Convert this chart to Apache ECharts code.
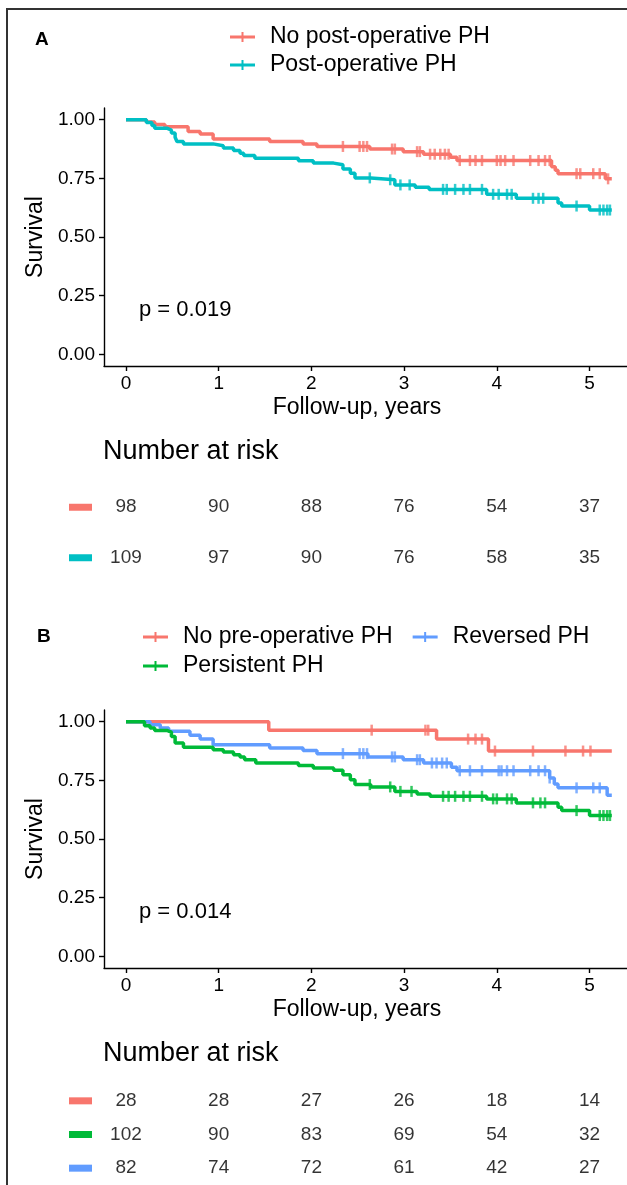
<!DOCTYPE html>
<html>
<head>
<meta charset="utf-8">
<style>
  html, body { margin: 0; padding: 0; background: #ffffff; }
  #chart { width: 627px; height: 1185px; }
</style>
<script src="https://cdn.jsdelivr.net/npm/echarts@6.0.0/dist/echarts.min.js"></script>
</head>
<body>
<div id="chart"></div>
<script>
// ---------- shared axis settings ----------
const xTicks = [0, 1, 2, 3, 4, 5];
const yTicks = [0, 0.25, 0.5, 0.75, 1];
const followEnd = 5.24;

// ---------- Panel A: post-operative PH ----------
const aNames = ['No post-operative PH', 'Post-operative PH'];

const aNoPostTime = [0, 0.22, 0.31, 0.42, 0.67, 0.80, 0.94, 1.55, 1.91, 2.06, 2.63, 2.99, 3.21, 3.50, 3.57, 4.59, 4.63, 4.66, 5.17];
const aNoPostSurv = [1, 0.990, 0.980, 0.970, 0.950, 0.939, 0.918, 0.907, 0.897, 0.886, 0.875, 0.864, 0.853, 0.840, 0.826, 0.800, 0.785, 0.770, 0.748];
const aNoPostCensor = [2.34, 2.52, 2.56, 2.60, 2.87, 2.90, 3.14, 3.17, 3.28, 3.33, 3.39, 3.44, 3.48, 3.60, 3.71, 3.77, 3.84, 4.00, 4.04, 4.09, 4.18, 4.36, 4.45, 4.52, 4.57, 4.86, 4.90, 5.04, 5.11, 5.20];

const aPostTime = [0, 0.22, 0.28, 0.31, 0.44, 0.49, 0.53, 0.55, 0.62, 0.94, 1.05, 1.16, 1.23, 1.27, 1.39, 1.86, 2.02, 2.24, 2.34, 2.42, 2.47, 2.64, 2.90, 3.12, 3.27, 3.89, 4.21, 4.66, 4.70, 5.00];
const aPostSurv = [1, 0.988, 0.975, 0.964, 0.956, 0.943, 0.925, 0.907, 0.897, 0.889, 0.879, 0.869, 0.857, 0.847, 0.836, 0.825, 0.815, 0.808, 0.790, 0.772, 0.752, 0.744, 0.722, 0.712, 0.703, 0.682, 0.665, 0.645, 0.632, 0.615];
const aPostCensor = [2.63, 2.85, 2.96, 3.06, 3.42, 3.46, 3.55, 3.64, 3.71, 3.84, 3.96, 4.02, 4.11, 4.16, 4.39, 4.45, 4.50, 4.86, 5.11, 5.15, 5.19, 5.22];

const aRiskNoPost = [98, 90, 88, 76, 54, 37];
const aRiskPost = [109, 97, 90, 76, 58, 35];

// ---------- Panel B: pre-operative PH course ----------
const bNames = ['No pre-operative PH', 'Reversed PH', 'Persistent PH'];

const bNoPreTime = [0, 1.54, 3.35, 3.91];
const bNoPreSurv = [1, 0.964, 0.926, 0.875];
const bNoPreCensor = [2.65, 3.23, 3.26, 3.69, 3.77, 3.84, 3.98, 4.39, 4.74, 4.93, 5.01];

const bReversedTime = [0, 0.26, 0.37, 0.46, 0.69, 0.80, 0.94, 1.55, 1.91, 2.06, 2.61, 2.99, 3.21, 3.51, 3.57, 4.57, 4.62, 4.66, 5.19];
const bReversedSurv = [1, 0.987, 0.973, 0.959, 0.942, 0.926, 0.902, 0.888, 0.877, 0.864, 0.850, 0.838, 0.824, 0.806, 0.791, 0.760, 0.735, 0.718, 0.686];
const bReversedCensor = [2.34, 2.52, 2.56, 2.60, 2.87, 2.90, 3.14, 3.17, 3.30, 3.35, 3.41, 3.46, 3.60, 3.71, 3.84, 4.02, 4.05, 4.11, 4.18, 4.36, 4.45, 4.52, 4.57, 4.86, 5.04, 5.11];

const bPersistentTime = [0, 0.20, 0.26, 0.31, 0.44, 0.49, 0.53, 0.62, 0.94, 1.05, 1.16, 1.23, 1.28, 1.40, 1.86, 2.02, 2.24, 2.34, 2.42, 2.47, 2.64, 2.90, 3.14, 3.28, 3.89, 4.21, 4.66, 4.70, 5.00];
const bPersistentSurv = [1, 0.983, 0.973, 0.963, 0.956, 0.937, 0.909, 0.891, 0.881, 0.871, 0.859, 0.850, 0.838, 0.824, 0.813, 0.803, 0.793, 0.774, 0.753, 0.732, 0.722, 0.703, 0.692, 0.682, 0.671, 0.654, 0.635, 0.621, 0.600];
const bPersistentCensor = [2.63, 2.85, 2.96, 3.08, 3.42, 3.48, 3.55, 3.64, 3.71, 3.84, 3.96, 4.00, 4.11, 4.16, 4.39, 4.47, 4.52, 4.86, 5.11, 5.15, 5.19, 5.22];

const bRiskNoPre = [28, 28, 27, 26, 18, 14];
const bRiskPersistent = [102, 90, 83, 69, 54, 32];
const bRiskReversed = [82, 74, 72, 61, 42, 27];

// ---------- styling ----------
const FONT = '"Liberation Sans", Arial, Helvetica, sans-serif';
const RED = '#F8766D', TEAL = '#00BFC4', GREEN = '#00BA38', BLUE = '#619CFF';
const INK = '#000000';
const X_MIN = -0.237, X_MAX = 5.404;
const PLUS_ICON = 'path://M0,3.5h25v3h-25z M11.5,0h2v10h-2z';

// step curve through the estimated survival points, carried to end of follow-up
function curve(times, surv) {
  const pts = times.map((t, i) => [t, surv[i]]);
  pts.push([followEnd, surv[surv.length - 1]]);
  return pts;
}
// censor marks sit on the curve at their time
function censorPts(censor, times, surv) {
  return censor.map(c => {
    let s = surv[0];
    for (let i = 0; i < times.length; i++) if (times[i] <= c) s = surv[i];
    return [c, s];
  });
}

function kmSeries(name, color, times, surv, censor, gi) {
  return [
    {
      type: 'line', name: name, step: 'end', xAxisIndex: gi, yAxisIndex: gi,
      data: curve(times, surv), showSymbol: false, symbol: 'none',
      lineStyle: { color: color, width: 3.5 }, itemStyle: { color: color },
      z: 3, silent: true
    },
    {
      type: 'scatter', name: name + ' (censored)', xAxisIndex: gi, yAxisIndex: gi,
      data: censorPts(censor, times, surv), symbol: 'rect', symbolSize: [2.5, 11],
      itemStyle: { color: color }, z: 4, silent: true
    }
  ];
}

function riskSeries(rows, gi) {
  const data = [];
  rows.forEach((row, r) => row.forEach((v, j) => data.push([xTicks[j], r, v])));
  return {
    type: 'scatter', xAxisIndex: gi, yAxisIndex: gi, data: data, symbolSize: 0,
    silent: true,
    label: {
      show: true, position: 'inside', formatter: p => String(p.value[2]),
      fontFamily: FONT, fontSize: 19, color: INK
    }
  };
}

function plotX(gi) {
  return {
    type: 'value', gridIndex: gi, min: X_MIN, max: X_MAX,
    axisLine: { show: true, onZero: false, lineStyle: { color: '#000', width: 1.4 } },
    axisTick: { show: true, customValues: xTicks, length: 5, lineStyle: { color: '#000', width: 1.4 } },
    axisLabel: { customValues: xTicks, fontFamily: FONT, fontSize: 19, color: INK, margin: 8 },
    splitLine: { show: false }
  };
}
function plotY(gi) {
  return {
    type: 'value', gridIndex: gi, min: -0.05, max: 1.05,
    axisLine: { show: true, onZero: false, lineStyle: { color: '#000', width: 1.4 } },
    axisTick: { show: true, customValues: yTicks, length: 5, lineStyle: { color: '#000', width: 1.4 } },
    axisLabel: { customValues: yTicks, formatter: v => v.toFixed(2), fontFamily: FONT, fontSize: 19, color: INK, margin: 9 },
    splitLine: { show: false }
  };
}
function riskX(gi) {
  return { type: 'value', gridIndex: gi, min: X_MIN, max: X_MAX, show: false };
}
function riskY(gi, colors) {
  const rich = {};
  colors.forEach((c, i) => { rich['c' + i] = { width: 23, height: 7, backgroundColor: c, fontSize: 1 }; });
  return {
    type: 'category', gridIndex: gi, inverse: true, data: colors.map((c, i) => 'row' + i),
    axisLine: { show: false }, axisTick: { show: false }, splitLine: { show: false },
    axisLabel: { margin: 12, formatter: (v, i) => '{c' + i + '| }', rich: rich }
  };
}

function legendText() {
  return { fontFamily: FONT, fontSize: 23, color: INK, lineHeight: 28, padding: [0, 0, 0, 10] };
}

function label(text, x, y, size, weight) {
  return {
    type: 'text', x: x, y: y, silent: true,
    style: {
      text: text, fontFamily: FONT, fontSize: size, fontWeight: weight || 'normal', fill: INK,
      align: 'left', verticalAlign: 'middle'
    }
  };
}
function centered(text, x, y, size, rotation) {
  return {
    type: 'text', x: x, y: y, rotation: rotation || 0, silent: true,
    style: { text: text, fontFamily: FONT, fontSize: size, fill: INK, align: 'center', verticalAlign: 'middle' }
  };
}

const chart = echarts.init(document.getElementById('chart'), null, { renderer: 'canvas' });

const option = {
  backgroundColor: '#ffffff',
  animation: false,
  grid: [
    { left: 104, top: 108, width: 523, height: 258 },
    { left: 104, top: 482, width: 523, height: 101 },
    { left: 104, top: 710, width: 523, height: 258 },
    { left: 104, top: 1084, width: 523, height: 102 }
  ],
  xAxis: [plotX(0), riskX(1), plotX(2), riskX(3)],
  yAxis: [plotY(0), riskY(1, [RED, TEAL]), plotY(2), riskY(3, [RED, GREEN, BLUE])],
  legend: [
    {
      data: aNames.map(n => ({ name: n, icon: PLUS_ICON })), orient: 'vertical',
      left: 230, top: 23, padding: 0, itemGap: 0, itemWidth: 25, itemHeight: 10,
      textStyle: legendText(), selectedMode: false
    },
    {
      data: [bNames[0], bNames[1]].map(n => ({ name: n, icon: PLUS_ICON })), orient: 'horizontal',
      left: 143, top: 623, padding: 0, itemGap: 20, itemWidth: 25, itemHeight: 10,
      textStyle: legendText(), selectedMode: false
    },
    {
      data: [{ name: bNames[2], icon: PLUS_ICON }], orient: 'horizontal',
      left: 143, top: 652, padding: 0, itemWidth: 25, itemHeight: 10,
      textStyle: legendText(), selectedMode: false
    }
  ],
  series: [
    ...kmSeries(aNames[0], RED, aNoPostTime, aNoPostSurv, aNoPostCensor, 0),
    ...kmSeries(aNames[1], TEAL, aPostTime, aPostSurv, aPostCensor, 0),
    riskSeries([aRiskNoPost, aRiskPost], 1),
    ...kmSeries(bNames[0], RED, bNoPreTime, bNoPreSurv, bNoPreCensor, 2),
    ...kmSeries(bNames[1], BLUE, bReversedTime, bReversedSurv, bReversedCensor, 2),
    ...kmSeries(bNames[2], GREEN, bPersistentTime, bPersistentSurv, bPersistentCensor, 2),
    riskSeries([bRiskNoPre, bRiskPersistent, bRiskReversed], 3)
  ],
  graphic: [
    // figure frame
    { type: 'rect', silent: true, shape: { x: 7, y: 9, width: 800, height: 1400 },
      style: { fill: 'none', stroke: '#333333', lineWidth: 2 } },
    // panel letters
    label('A', 35, 40, 19, 'bold'),
    label('B', 37, 637, 19, 'bold'),
    // axis titles
    centered('Survival', 36, 237, 23, Math.PI / 2),
    centered('Survival', 36, 839, 23, Math.PI / 2),
    centered('Follow-up, years', 357, 408, 23),
    centered('Follow-up, years', 357, 1010, 23),
    // log-rank p values
    label('p = 0.019', 139, 310, 22),
    label('p = 0.014', 139, 912, 22),
    // risk table headings
    label('Number at risk', 103, 452, 27),
    label('Number at risk', 103, 1054, 27)
  ]
};

chart.setOption(option);
</script>
</body>
</html>
